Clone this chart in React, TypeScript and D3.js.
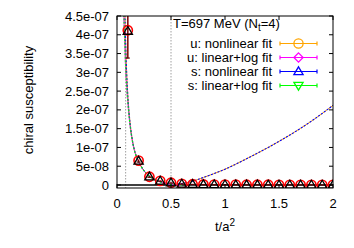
import React from 'react'
import * as d3 from 'd3'

// lattice data: flow time t/a^2, chiral susceptibility (u and s nearly identical)
const tData = [0.1, 0.2, 0.3, 0.4, 0.5, 0.6, 0.7, 0.8, 0.9, 1.0, 1.1, 1.2, 1.3, 1.4, 1.5, 1.6, 1.7, 1.8, 1.9, 2.0]
const uData = [4.12e-7, 6.5e-8, 2.2e-8, 1.1e-8, 6e-9, 3e-9, 2e-9, 1.5e-9, 1.2e-9, 1e-9, 9e-10, 8e-10, 7e-10, 6e-10, 5e-10, 5e-10, 4e-10, 4e-10, 3e-10, 3e-10]
const uErr = [7.5e-8, 3e-9, 1.5e-9, 1e-9, 8e-10, 6e-10, 5e-10, 4e-10, 4e-10, 3e-10, 3e-10, 3e-10, 3e-10, 3e-10, 3e-10, 3e-10, 3e-10, 3e-10, 3e-10, 3e-10]
const sData = [4.1e-7, 6.4e-8, 2.2e-8, 1.1e-8, 6e-9, 3e-9, 2e-9, 1.5e-9, 1.2e-9, 1e-9, 9e-10, 8e-10, 7e-10, 6e-10, 5e-10, 5e-10, 4e-10, 4e-10, 3e-10, 3e-10]
const sErr = [7.2e-8, 3e-9, 1.5e-9, 1e-9, 8e-10, 6e-10, 5e-10, 4e-10, 4e-10, 3e-10, 3e-10, 3e-10, 3e-10, 3e-10, 3e-10, 3e-10, 3e-10, 3e-10, 3e-10, 3e-10]

// fit curves
const tNonlin = [0.068, 0.074, 0.08, 0.09, 0.1, 0.12, 0.14, 0.16, 0.18, 0.2, 0.25, 0.3, 0.35, 0.4, 0.45, 0.5, 0.55, 0.6, 0.7, 0.8, 1.0, 1.2, 1.4, 1.6, 1.8, 2.0]
const vNonlin = [5.0e-7, 4.4e-7, 3.75e-7, 2.95e-7, 2.39e-7, 1.68e-7, 1.24e-7, 9.5e-8, 7.6e-8, 6.2e-8, 3.8e-8, 2.4e-8, 1.5e-8, 9e-9, 5e-9, 3e-9, 2.5e-9, 4e-9, 1e-8, 2e-8, 4.2e-8, 7e-8, 1.0e-7, 1.33e-7, 1.7e-7, 2.12e-7]
const tLinLog = [0.058, 0.065, 0.07, 0.08, 0.09, 0.1, 0.12, 0.14, 0.16, 0.18, 0.2, 0.25, 0.3, 0.35, 0.4, 0.45, 0.5, 0.55, 0.6]
const vLinLog = [5.0e-7, 4.3e-7, 3.9e-7, 3.1e-7, 2.6e-7, 2.2e-7, 1.6e-7, 1.2e-7, 9.3e-8, 7.5e-8, 6.2e-8, 3.8e-8, 2.3e-8, 1.4e-8, 8e-9, 4e-9, 1.5e-9, 0, -1e-9]

const fitRange = [0.08, 0.5]
const xTicks = [0, 0.5, 1, 1.5, 2]
const xTickLabels = ['0', '0.5', '1', '1.5', '2']
const yTicks = [0, 5e-8, 1e-7, 1.5e-7, 2e-7, 2.5e-7, 3e-7, 3.5e-7, 4e-7, 4.5e-7]
const yTickLabels = ['0', '5e-08', '1e-07', '1.5e-07', '2e-07', '2.5e-07', '3e-07', '3.5e-07', '4e-07', '4.5e-07']
const legendLabels = ['u: nonlinear fit', 'u: linear+log fit', 's: nonlinear fit', 's: linear+log fit']
const legendColors = ['#ffa500', '#ff00ff', '#0000ff', '#00ff00']

const W = 354
const H = 248
const L = 117, R = 333, T = 16, B = 188
const font = 'Liberation Sans, Arial, sans-serif'

function marker(kind: number, x: number, y: number, color: string, key: any, sw = 1.3) {
  const s = 4.6
  if (kind === 0) return <circle key={key} cx={x} cy={y} r={s} fill="none" stroke={color} strokeWidth={sw} />
  if (kind === 1) return <path key={key} d={`M${x},${y - s}L${x + s},${y}L${x},${y + s}L${x - s},${y}Z`} fill="none" stroke={color} strokeWidth={sw} />
  if (kind === 2) return <path key={key} d={`M${x},${y - s}L${x + s},${y + s * 0.7}L${x - s},${y + s * 0.7}Z`} fill="none" stroke={color} strokeWidth={sw} />
  return <path key={key} d={`M${x},${y + s}L${x + s},${y - s * 0.7}L${x - s},${y - s * 0.7}Z`} fill="none" stroke={color} strokeWidth={sw} />
}

export default function App() {
  const x = d3.scaleLinear().domain([0, 2]).range([L, R])
  const y = d3.scaleLinear().domain([-8e-9, 4.5e-7]).range([B, T])

  const line = d3.line<[number, number]>().x(d => x(d[0])).y(d => y(d[1])).curve(d3.curveMonotoneX)
  const nonlin = line(tNonlin.map((t, i) => [t, vNonlin[i]]))!
  const linlog = line(tLinLog.map((t, i) => [t, vLinLog[i]]))!

  return (
    <svg width={W} height={H} style={{ position: 'absolute', left: 0, top: 0, background: '#fff' }} fontFamily={font}>
      <defs>
        <clipPath id="plot"><rect x={L} y={T} width={R - L} height={B - T} /></clipPath>
      </defs>
      <rect width={W} height={H} fill="#fff" />

      {/* fit range markers */}
      {fitRange.map((t, i) => (
        <line key={i} x1={x(t)} x2={x(t)} y1={T} y2={B} stroke="#888" strokeWidth={0.8} strokeDasharray="1.5,1.5" />
      ))}

      {/* zero axis */}
      <line x1={L} x2={R} y1={y(0)} y2={y(0)} stroke="#000" strokeWidth={1.5} />

      <g clipPath="url(#plot)">
        <path d={nonlin} fill="none" stroke={legendColors[0]} strokeWidth={1} />
        <path d={linlog} fill="none" stroke={legendColors[1]} strokeWidth={1} />
        <path d={nonlin} fill="none" stroke={legendColors[2]} strokeWidth={1.1} strokeDasharray="2,1.5" />
        <path d={linlog} fill="none" stroke={legendColors[3]} strokeWidth={1.1} strokeDasharray="2,1.5" />

        {tData.map((t, i) => (
          <g key={i}>
            <line x1={x(t)} x2={x(t)} y1={y(uData[i] - uErr[i])} y2={y(uData[i] + uErr[i])} stroke="#e00" strokeWidth={1.3} />
            <line x1={x(t)} x2={x(t)} y1={y(sData[i] - sErr[i])} y2={y(sData[i] + sErr[i])} stroke="#000" strokeWidth={1.3} strokeOpacity={0.55} />
            <line x1={x(t) - 2} x2={x(t) + 2} y1={y(sData[i] - sErr[i])} y2={y(sData[i] - sErr[i])} stroke="#600" strokeWidth={1.2} />
            {marker(0, x(t), y(uData[i]), '#ff0000', 'u', 1.6)}
            {marker(2, x(t), y(sData[i]), '#000', 's', 1.3)}
          </g>
        ))}
      </g>

      {/* frame */}
      <rect x={L} y={T} width={R - L} height={B - T} fill="none" stroke="#000" strokeWidth={1} />
      {yTicks.map((v, i) => (
        <g key={i}>
          <line x1={L} x2={L + 4} y1={y(v)} y2={y(v)} stroke="#000" />
          <line x1={R} x2={R - 4} y1={y(v)} y2={y(v)} stroke="#000" />
          <text x={L - 8} y={y(v)} dy="0.35em" textAnchor="end" fontSize={13}>{yTickLabels[i]}</text>
        </g>
      ))}
      {xTicks.map((v, i) => (
        <g key={i}>
          <line x1={x(v)} x2={x(v)} y1={B} y2={B - 4} stroke="#000" />
          <line x1={x(v)} x2={x(v)} y1={T} y2={T + 4} stroke="#000" />
          <text x={x(v)} y={208} textAnchor="middle" fontSize={13}>{xTickLabels[i]}</text>
        </g>
      ))}

      <text x={(L + R) / 2} y={231} textAnchor="middle" fontSize={13}>
        t/a<tspan dy={-5} fontSize={10}>2</tspan>
      </text>
      <text transform={`translate(33,100) rotate(-90)`} textAnchor="middle" fontSize={13}>chiral susceptibility</text>

      {/* legend */}
      <text x={173} y={28} fontSize={13}>
        T=697 MeV (N<tspan dy={3} fontSize={10}>t</tspan><tspan dy={-3}>=4)</tspan>
      </text>
      {legendLabels.map((lab, i) => {
        const ly = 43.5 + i * 14
        return (
          <g key={i}>
            <text x={272} y={ly} dy="0.35em" textAnchor="end" fontSize={13}>{lab}</text>
            <line x1={280} x2={317} y1={ly} y2={ly} stroke={legendColors[i]} strokeWidth={1.2} />
            <line x1={280} x2={280} y1={ly - 2} y2={ly + 2} stroke={legendColors[i]} strokeWidth={1.2} />
            <line x1={317} x2={317} y1={ly - 2} y2={ly + 2} stroke={legendColors[i]} strokeWidth={1.2} />
            {marker(i, 298.5, ly, legendColors[i], 'm')}
          </g>
        )
      })}
    </svg>
  )
}
